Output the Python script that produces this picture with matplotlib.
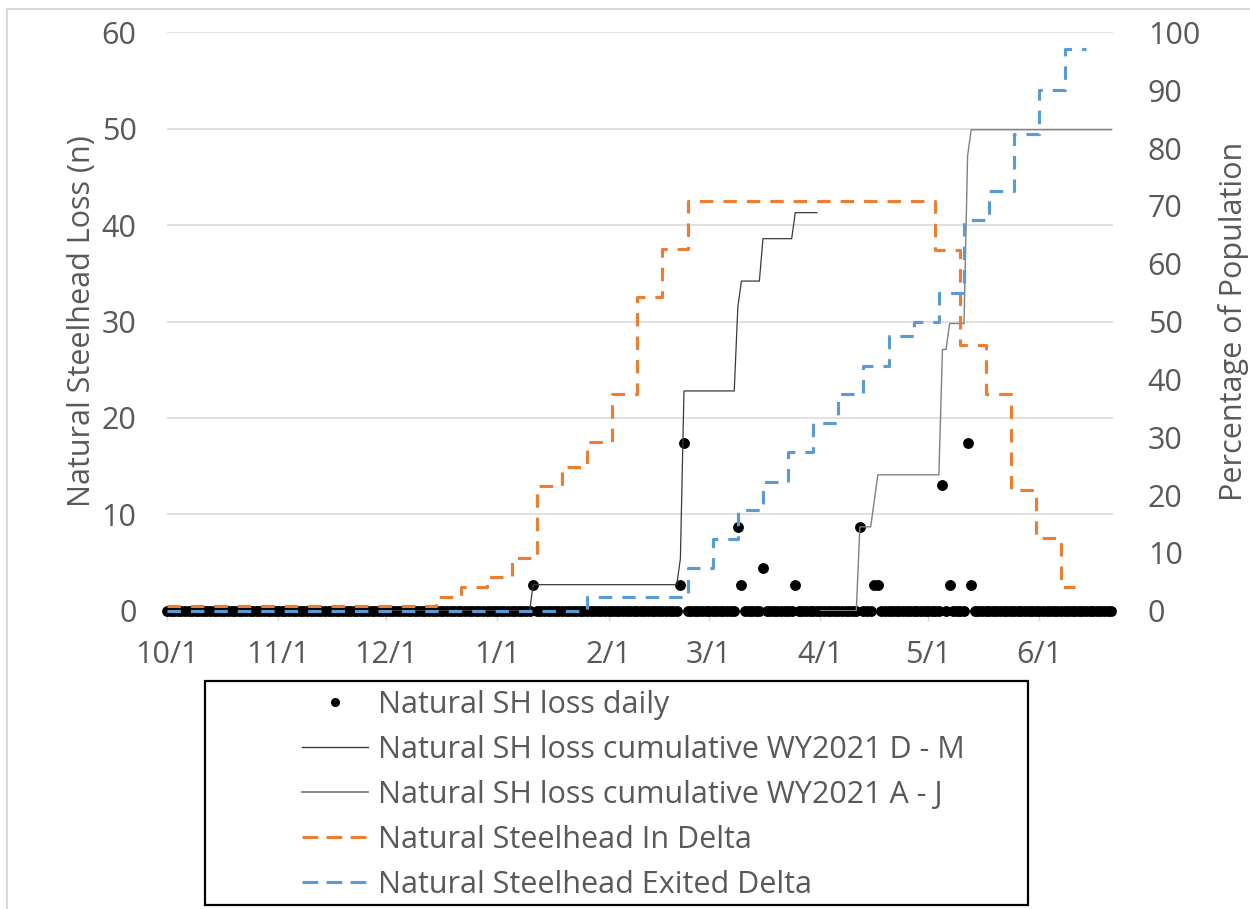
import numpy as np
import matplotlib
matplotlib.use("Agg")
import matplotlib.pyplot as plt
from matplotlib.lines import Line2D
from matplotlib.patches import Rectangle

# ---- data (day index counted from 10/1/2020) ----
n_days = 264
month_days = [0, 31, 61, 92, 123, 151, 182, 212, 243]
month_labels = ["10/1", "11/1", "12/1", "1/1", "2/1", "3/1", "4/1", "5/1", "6/1"]

loss_days = [102, 143, 144, 159, 160, 166, 175, 193, 197, 198, 216, 218, 223, 224]
loss_vals = [2.7, 2.7, 17.4, 8.7, 2.7, 4.4, 2.7, 8.7, 2.7, 2.7, 13.0, 2.7, 17.4, 2.7]

dm_start, dm_end = 61, 181      # Dec - Mar window
aj_start, aj_end = 182, 263     # Apr - Jun window

in_delta_days = [0, 75, 82, 89, 96, 103, 110, 117, 124, 131, 138, 145,
                 214, 221, 228, 235, 242, 249, 253]
in_delta_pct = [0.8, 2.4, 4.15, 5.9, 9.1, 21.6, 24.9, 29.1, 37.5, 54.2, 62.5, 70.8,
                62.4, 45.9, 37.5, 20.9, 12.5, 4.1, 4.1]

exited_days = [0, 117, 145, 152, 159, 166, 173, 180, 187, 194, 201, 208,
               215, 222, 229, 236, 243, 250, 256]
exited_pct = [0, 2.4, 7.3, 12.4, 17.4, 22.3, 27.4, 32.4, 37.4, 42.4, 47.5, 49.9,
              54.9, 67.6, 72.6, 82.5, 90.1, 97.2, 97.2]

# ---- derived series ----
days = np.arange(n_days)
daily_loss = np.zeros(n_days)
daily_loss[loss_days] = loss_vals

dm_x = np.arange(dm_start, dm_end + 1)
dm_y = np.cumsum(daily_loss[dm_start:dm_end + 1])
aj_x = np.arange(aj_start, aj_end + 1)
aj_y = np.cumsum(daily_loss[aj_start:aj_end + 1])

# ---- style ----
FONT = ["Open Sans", "DejaVu Sans"]
plt.rcParams["font.family"] = FONT
TXT = "#595959"
GRID = "#D9D9D9"
ORANGE = "#ED7D31"
BLUE = "#5B9BD5"
FS = 22

W, H = 1250, 909
fig = plt.figure(figsize=(W / 100, H / 100), dpi=100)
fig.patch.set_facecolor("white")

x0, x1 = 167, 1113
y_top, y_bot = 32.4, 610.7
ax = fig.add_axes([x0 / W, 1 - y_bot / H, (x1 - x0) / W, (y_bot - y_top) / H])
ax2 = ax.twinx()

# daily points
ax.plot(days, daily_loss, linestyle="none", marker="o", markersize=6.8,
        color="black", clip_on=False, zorder=3)
# cumulative loss
ax.plot(dm_x, dm_y, color="#3a3a3a", lw=0.9, zorder=4)
ax.plot(aj_x, aj_y, color="#808080", lw=1.0, zorder=4)

# population percentages
ax2.plot(in_delta_days, in_delta_pct, drawstyle="steps-post", color=ORANGE,
         lw=2.25, dashes=(4.3, 3.2), clip_on=False)
ax2.plot(exited_days, exited_pct, drawstyle="steps-post", color=BLUE,
         lw=2.25, dashes=(4.3, 3.2), clip_on=False)

ax.set_xlim(0, 263.5)
ax.set_ylim(0, 60)
ax2.set_ylim(0, 100)
ax.set_yticks(np.arange(0, 61, 10))
ax2.set_yticks(np.arange(0, 101, 10))
ax.set_xticks(month_days)
ax.set_xticklabels(month_labels)

ax.grid(axis="y", color=GRID, lw=1.1)
ax.set_axisbelow(True)
for a in (ax, ax2):
    for s in a.spines.values():
        s.set_visible(False)
ax.spines["bottom"].set_visible(True)
ax.spines["bottom"].set_color(GRID)

ax.tick_params(axis="x", direction="out", length=7, width=1, color=GRID,
               labelcolor=TXT, labelsize=FS, pad=14)
ax.tick_params(axis="y", length=0, labelcolor=TXT, labelsize=FS, pad=22)
ax2.tick_params(axis="y", length=0, labelcolor=TXT, labelsize=FS, pad=25)

ax.set_ylabel("Natural Steelhead Loss (n)", color=TXT, fontsize=FS, labelpad=3)
ax2.set_ylabel("Percentage of Population", color=TXT, fontsize=FS, labelpad=13)

# legend
handles = [
    Line2D([], [], linestyle="none", marker="o", markersize=5.5, color="black"),
    Line2D([], [], color="#3a3a3a", lw=1.0),
    Line2D([], [], color="#808080", lw=1.3),
    Line2D([], [], color=ORANGE, lw=2.25, dashes=(5.0, 2.7)),
    Line2D([], [], color=BLUE, lw=2.25, dashes=(5.0, 2.7)),
]
labels = ["Natural SH loss daily",
          "Natural SH loss cumulative WY2021 D - M",
          "Natural SH loss cumulative WY2021 A - J",
          "Natural Steelhead In Delta",
          "Natural Steelhead Exited Delta"]
leg = fig.legend(handles, labels, loc="upper left",
                 bbox_to_anchor=(302 / W, 1 - 690 / H),
                 frameon=False, fontsize=FS, borderpad=0, borderaxespad=0,
                 handlelength=2.16, handletextpad=0.33, labelspacing=0.49)
for t in leg.get_texts():
    t.set_color(TXT)

# legend box
fig.patches.append(Rectangle((205 / W, 1 - 905 / H), (1028 - 205) / W, (905 - 681) / H,
                             transform=fig.transFigure, fill=False,
                             edgecolor="black", lw=1.6))
# chart border
fig.patches.append(Rectangle((7 / W, -0.2), 1.2, (1 + 0.2) - 8.5 / H,
                             transform=fig.transFigure, fill=False,
                             edgecolor=GRID, lw=1.5))

fig.savefig("out.png", dpi=100)
